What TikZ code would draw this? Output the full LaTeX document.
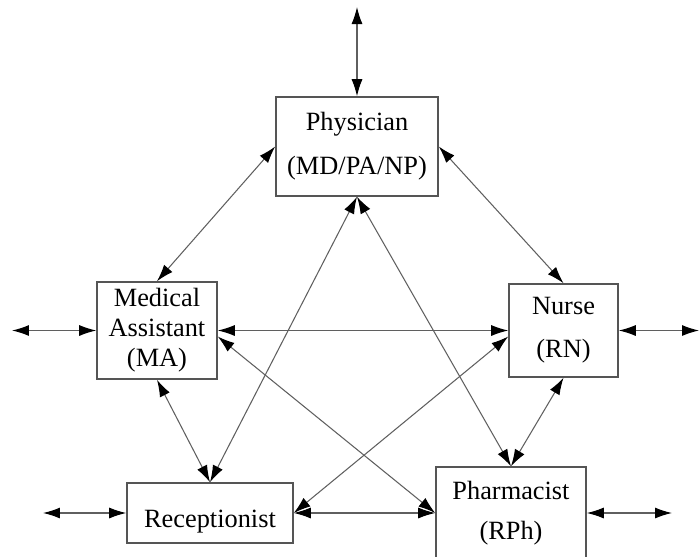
\documentclass[tikz,border=0pt]{standalone}
\usepackage{fontspec}
\setmainfont{Liberation Serif}
\usetikzlibrary{arrows.meta}
\definecolor{boxgray}{RGB}{85,85,85}
\definecolor{linkgray}{RGB}{95,95,95}
\tikzset{
  role/.style={draw=boxgray, line width=0.9pt, align=center, inner sep=0pt,
    font=\fontsize{15}{25}\selectfont},
  link/.style={draw=linkgray, line width=0.6pt,
    {Latex[length=3.4mm,width=2.2mm,color=black]}-{Latex[length=3.4mm,width=2.2mm,color=black]}}
}
\begin{document}
\begin{tikzpicture}[x=0.02cm, y=-0.02cm]
      \useasboundingbox (0,0) rectangle (700,556);
      \clip (0,0) rectangle (700,556);
      % roles
      \node[role, minimum width=3.24cm, minimum height=1.98cm] (phys) at (357,146.5) {Physician\\(MD/PA/NP)};
      \node[role, minimum width=2.4cm, minimum height=1.94cm, font=\fontsize{15}{17}\selectfont] (ma) at (157,330.5) {Medical\\Assistant\\(MA)};
      \node[role, minimum width=2.18cm, minimum height=1.86cm, font=\fontsize{15}{24.5}\selectfont] (nurse) at (563.5,330.5) {Nurse\\(RN)};
      \node[role, minimum width=3.32cm, minimum height=1.2cm, text height=18pt, text depth=2pt] (recep) at (210,513) {Receptionist};
      \node[role, minimum width=3.0cm, minimum height=1.84cm, font=\fontsize{15}{23}\selectfont] (pharm) at (511,513) {Pharmacist\\(RPh)};
      % outside ends
      \coordinate (top) at (357,7);
      \coordinate (left) at (12,330.5);
      \coordinate (right) at (699,330.5);
      \coordinate (rleft) at (43,513);
      \coordinate (pright) at (672,513);
      \begin{scope}[link]
        \draw (top) to (phys.north);
        \draw (left) to (ma.west);
        \draw (nurse.east) to (right);
        \draw (rleft) to (recep.west);
        \draw (pharm.east) to (pright);
        \draw (phys.west) to (ma.north);
        \draw (phys.east) to (nurse.north);
        \draw (phys.south) to (recep.north);
        \draw (phys.south) to (pharm.north);
        \draw (ma.east) to (nurse.west);
        \draw ([yshift=-1.2mm]ma.east) to (pharm.west);
        \draw ([yshift=-1.2mm]nurse.west) to (recep.east);
        \draw (ma.south) to (recep.north);
        \draw (nurse.south) to (pharm.north);
        \draw (recep.east) to (pharm.west);
      \end{scope}
    \end{tikzpicture}
\end{document}
